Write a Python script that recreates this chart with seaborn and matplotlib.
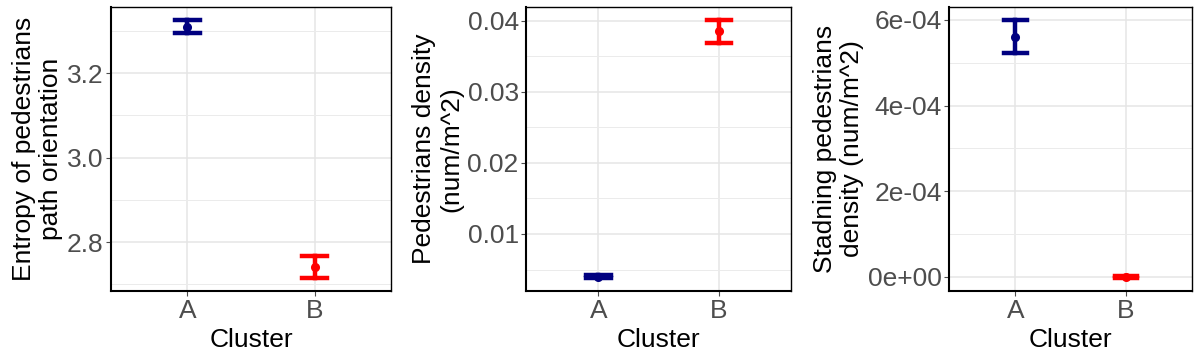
import matplotlib
matplotlib.use("Agg")
import matplotlib.pyplot as plt
import seaborn as sns
import numpy as np
import pandas as pd

clusters = ["A", "B"]
colors = {"A": "#000080", "B": "#FF0000"}

# mean, lower, upper of each cluster
entropy_mean = [3.310, 2.741]
entropy_low = [3.294, 2.715]
entropy_high = [3.326, 2.767]

density_mean = [0.0040, 0.0385]
density_low = [0.0038, 0.0368]
density_high = [0.0042, 0.0401]

standing_mean = [5.61e-4, 0.0]
standing_low = [5.22e-4, -0.3e-5]
standing_high = [6.00e-4, 0.3e-5]

ylabels = ["Entropy of pedestrians\npath orientation",
           "Pedestrians density\n(num/m^2)",
           "Stadning pedestrians\ndensity (num/m^2)"]

ticks1 = [2.8, 3.0, 3.2]
ticklabels1 = ["2.8", "3.0", "3.2"]
minor1 = [2.7, 2.9, 3.1, 3.3]
ticks2 = [0.01, 0.02, 0.03, 0.04]
ticklabels2 = ["0.01", "0.02", "0.03", "0.04"]
minor2 = [0.005, 0.015, 0.025, 0.035]
ticks3 = [0, 2e-4, 4e-4, 6e-4]
ticklabels3 = ["0e+00", "2e-04", "4e-04", "6e-04"]
minor3 = [1e-4, 3e-4, 5e-4]

plt.rcParams['font.family'] = ['Liberation Sans', 'DejaVu Sans']

fig = plt.figure(figsize=(11.97, 3.61), dpi=100)
bottom = (361 - 291) / 361
height = (291 - 7) / 361
boxes = [(111, 280), (526.3, 264.7), (949.3, 242.7)]

panels = [
    (entropy_mean, entropy_low, entropy_high, ticks1, ticklabels1, minor1),
    (density_mean, density_low, density_high, ticks2, ticklabels2, minor2),
    (standing_mean, standing_low, standing_high, ticks3, ticklabels3, minor3),
]

for i, (mean, low, high, ticks, tlabels, minor) in enumerate(panels):
    left, w = boxes[i]
    ax = fig.add_axes([left / 1197, bottom, w / 1197, height])
    rows = []
    for c, m, lo, hi in zip(clusters, mean, low, high):
        for v in (lo, m, hi):
            rows.append({"Cluster": c, "value": v})
    df = pd.DataFrame(rows)
    sns.pointplot(data=df, x="Cluster", y="value", hue="Cluster",
                  palette=colors, order=clusters, hue_order=clusters,
                  estimator=np.median,
                  errorbar=lambda v: (v.min(), v.max()),
                  capsize=0.2, linestyle="none", markersize=4.5,
                  err_kws={"linewidth": 3.2}, legend=False, ax=ax)
    span = max(high) - min(low)
    ax.set_ylim(min(low) - 0.05 * span, max(high) + 0.05 * span)
    ax.set_xlim(-0.6, 1.6)
    ax.set_yticks(ticks)
    ax.set_yticklabels(tlabels)
    ax.set_yticks(minor, minor=True)
    ax.grid(True, which="major", color="#E5E5E5", linewidth=1.1)
    ax.grid(True, which="minor", axis="y", color="#EBEBEB", linewidth=0.7)
    ax.set_axisbelow(True)
    ax.tick_params(axis="both", which="major", labelsize=19, colors="#4D4D4D",
                   length=3.5, width=0.8, pad=2)
    ax.tick_params(axis="y", which="minor", length=0)
    for lab in ax.get_xticklabels() + ax.get_yticklabels():
        lab.set_color("#4D4D4D")
    for s in ax.spines.values():
        s.set_color("black")
        s.set_linewidth(1.5)
    ax.spines["top"].set_linewidth(1.0)
    ax.spines["right"].set_linewidth(1.0)
    ax.set_xlabel("Cluster", fontsize=19, color="black", labelpad=4)
    ax.set_ylabel(ylabels[i], fontsize=19, color="black", labelpad=3,
                  linespacing=1.15)

fig.savefig("out.png", dpi=100)
